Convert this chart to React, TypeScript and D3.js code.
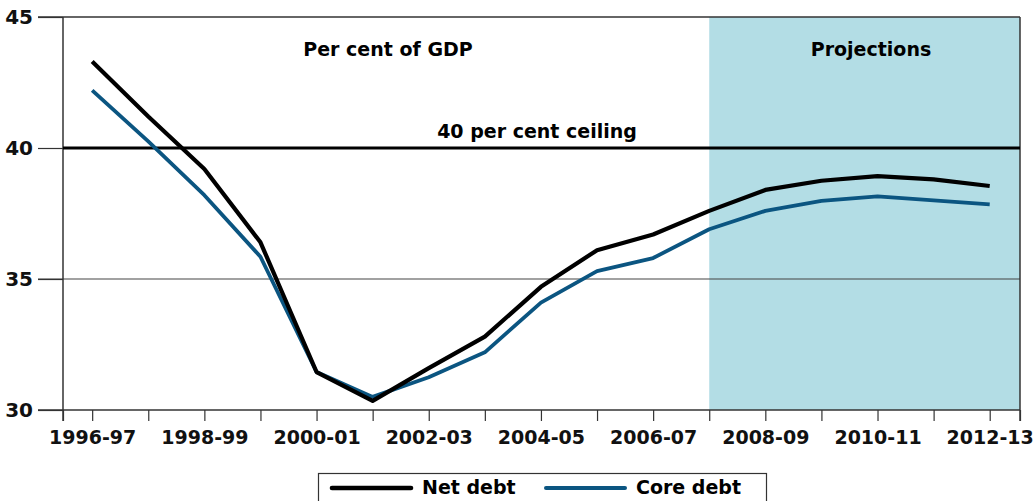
import * as d3 from 'd3';
import { useEffect, useRef } from 'react';

const years = [
  '1996-97', '1997-98', '1998-99', '1999-00', '2000-01', '2001-02', '2002-03', '2003-04', '2004-05',
  '2005-06', '2006-07', '2007-08', '2008-09', '2009-10', '2010-11', '2011-12', '2012-13',
];
const netDebt = [43.3, 41.2, 39.2, 36.4, 31.45, 30.35, 31.6, 32.8, 34.7, 36.1, 36.7, 37.6, 38.4, 38.75, 38.93, 38.8, 38.55];
const coreDebt = [42.2, 40.25, 38.2, 35.85, 31.45, 30.5, 31.25, 32.2, 34.1, 35.3, 35.8, 36.9, 37.6, 37.98, 38.15, 38.0, 37.85];
const tickLabels = ['1996-97', '1998-99', '2000-01', '2002-03', '2004-05', '2006-07', '2008-09', '2010-11', '2012-13'];
const yTicks = [30, 35, 40, 45];
const ceiling = 40;
const projectionStart = '2007-08';

const FONT = "'DejaVu Sans', sans-serif";

export default function App() {
  const ref = useRef(null);

  useEffect(() => {
    var W = 1035, H = 501;
    var left = 63, right = 1020, top = 17, bottom = 410;

    var svg = d3.select(ref.current);
    svg.selectAll('*').remove();
    svg.attr('width', W).attr('height', H);

    var x = d3.scaleLinear().domain([-0.52, years.length - 1 + 0.54]).range([left, right]);
    var y = d3.scaleLinear().domain([30, 45]).range([bottom, top]);
    var xi = (d) => x(years.indexOf(d));

    // projections shading
    svg.append('rect')
      .attr('x', xi(projectionStart))
      .attr('y', top)
      .attr('width', right - xi(projectionStart))
      .attr('height', bottom - top)
      .style('fill', '#b3dde5');

    // gridline at 35 and frame
    svg.append('line')
      .attr('x1', left - 25).attr('x2', right)
      .attr('y1', y(35)).attr('y2', y(35))
      .style('stroke', '#444').style('stroke-width', 1.2);
    svg.append('line')
      .attr('x1', left - 25).attr('x2', right)
      .attr('y1', y(45)).attr('y2', y(45))
      .style('stroke', '#333').style('stroke-width', 1.5);
    svg.append('line')
      .attr('x1', right).attr('x2', right)
      .attr('y1', top).attr('y2', bottom + 11)
      .style('stroke', '#333').style('stroke-width', 1.5);

    // y axis
    var yAxis = svg.append('g')
      .attr('transform', `translate(${left},0)`)
      .call(d3.axisLeft(y).tickValues(yTicks).tickSize(25).tickPadding(5));
    yAxis.select('.domain').remove();
    yAxis.selectAll('line').style('stroke', '#333').style('stroke-width', 1.2);
    yAxis.selectAll('text')
      .style('font-family', FONT).style('font-weight', 'bold').style('font-size', '20px')
      .style('fill', '#111').attr('dy', '0.3em');
    svg.append('line')
      .attr('x1', left).attr('x2', left)
      .attr('y1', top).attr('y2', bottom + 11)
      .style('stroke', '#333').style('stroke-width', 1.5);

    // x axis
    var tickPos = [-0.52].concat(d3.range(years.length)).concat([years.length - 1 + 0.54]);
    var xAxis = svg.append('g')
      .attr('transform', `translate(0,${bottom})`)
      .call(d3.axisBottom(x).tickValues(tickPos).tickSize(11).tickPadding(10)
        .tickFormat((d) => {
          var lbl = years[d];
          return lbl && tickLabels.includes(lbl) ? lbl : '';
        }));
    xAxis.select('.domain').remove();
    xAxis.selectAll('line').style('stroke', '#333').style('stroke-width', 1.2);
    xAxis.selectAll('text')
      .style('font-family', FONT).style('font-weight', 'bold').style('font-size', '19px')
      .style('fill', '#111');
    svg.append('line')
      .attr('x1', left - 25).attr('x2', right)
      .attr('y1', bottom).attr('y2', bottom)
      .style('stroke', '#333').style('stroke-width', 1.5);

    // ceiling line
    svg.append('line')
      .attr('x1', left).attr('x2', right)
      .attr('y1', y(ceiling)).attr('y2', y(ceiling))
      .style('stroke', '#000').style('stroke-width', 2.8);
    svg.append('text')
      .attr('x', 537).attr('y', y(ceiling) - 10)
      .attr('text-anchor', 'middle')
      .style('font-family', FONT).style('font-weight', 'bold').style('font-size', '19px')
      .text('40 per cent ceiling');

    svg.append('text')
      .attr('x', 388).attr('y', 56)
      .attr('text-anchor', 'middle')
      .style('font-family', FONT).style('font-weight', 'bold').style('font-size', '19px')
      .text('Per cent of GDP');
    svg.append('text')
      .attr('x', 871).attr('y', 56)
      .attr('text-anchor', 'middle')
      .style('font-family', FONT).style('font-weight', 'bold').style('font-size', '19px')
      .text('Projections');

    // lines
    var line = d3.line().x((d, i) => x(i)).y((d) => y(d));
    svg.append('path')
      .attr('d', line(coreDebt))
      .style('fill', 'none').style('stroke', '#0b5581').style('stroke-width', 3.8)
      .style('stroke-linejoin', 'round');
    svg.append('path')
      .attr('d', line(netDebt))
      .style('fill', 'none').style('stroke', '#000').style('stroke-width', 4.2)
      .style('stroke-linejoin', 'round');

    // legend
    var lg = svg.append('g');
    lg.append('rect')
      .attr('x', 318.5).attr('y', 473.5).attr('width', 448).attr('height', 40)
      .style('fill', '#fff').style('stroke', '#333').style('stroke-width', 1.2);
    var items = [
      { name: 'Net debt', color: '#000', x0: 332, w: 4.6 },
      { name: 'Core debt', color: '#0b5581', x0: 546, w: 4 },
    ];
    items.forEach((it) => {
      lg.append('line')
        .attr('x1', it.x0).attr('x2', it.x0 + 79)
        .attr('y1', 488).attr('y2', 488)
        .style('stroke', it.color).style('stroke-width', it.w).style('stroke-linecap', 'round');
      lg.append('text')
        .attr('x', it.x0 + 90).attr('y', 494)
        .style('font-family', FONT).style('font-weight', 'bold').style('font-size', '19px')
        .text(it.name);
    });
  }, []);

  return <svg ref={ref} style={{ position: 'absolute', left: 0, top: 0 }}></svg>;
}
